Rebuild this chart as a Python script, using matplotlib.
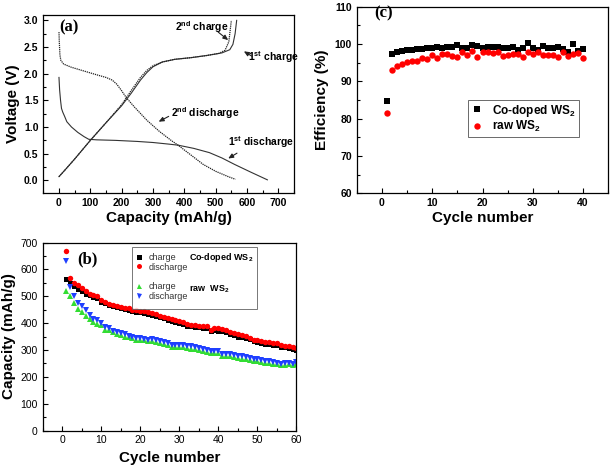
import numpy as np
import matplotlib
matplotlib.use("Agg")
import matplotlib.pyplot as plt
from matplotlib.lines import Line2D
from matplotlib.ticker import MultipleLocator

plt.rcParams['font.family'] = ['Liberation Sans', 'DejaVu Sans']
plt.rcParams['mathtext.fontset'] = 'custom'
plt.rcParams['mathtext.rm'] = 'Liberation Sans'
plt.rcParams['mathtext.bf'] = 'Liberation Sans:bold'

# ---- panel (a): voltage profiles
dis1_cap = [0, 2, 5, 8, 12, 18, 25, 40, 60, 80, 95, 120, 180, 250, 300, 350, 380, 430, 480, 520, 560, 610, 665]
dis1_v = [1.93, 1.7, 1.5, 1.35, 1.28, 1.2, 1.1, 1.0, 0.9, 0.82, 0.77, 0.76, 0.75, 0.73, 0.71, 0.68, 0.66, 0.6, 0.52, 0.42, 0.3, 0.16, 0.01]

dis2_cap = [0, 1, 3, 6, 15, 40, 80, 120, 150, 170, 185, 200, 215, 240, 280, 320, 360, 380, 420, 460, 500, 540, 563]
dis2_v = [2.78, 2.6, 2.35, 2.25, 2.18, 2.12, 2.05, 1.98, 1.93, 1.88, 1.8, 1.68, 1.55, 1.38, 1.13, 0.92, 0.74, 0.66, 0.48, 0.3, 0.17, 0.07, 0.02]

ch1_cap = [0, 20, 50, 100, 150, 200, 230, 260, 280, 300, 330, 370, 420, 470, 520, 545, 555, 562, 567]
ch1_v = [0.07, 0.2, 0.4, 0.75, 1.08, 1.4, 1.63, 1.88, 2.02, 2.13, 2.22, 2.27, 2.3, 2.34, 2.39, 2.45, 2.55, 2.75, 3.0]

ch2_cap = [0, 20, 50, 100, 150, 200, 230, 260, 280, 300, 330, 370, 420, 470, 510, 530, 542, 550]
ch2_v = [0.07, 0.2, 0.4, 0.75, 1.08, 1.42, 1.68, 1.93, 2.06, 2.15, 2.22, 2.27, 2.3, 2.34, 2.38, 2.44, 2.6, 3.0]

# ---- panel (b): cycling capacity
cycles_b = np.arange(1, 61)
co_charge = [565, 548, 537, 527, 518, 510, 503, 498, 492, 480, 473, 468, 463, 460, 456, 453, 450, 446, 443, 441,
             438, 434, 430, 426, 422, 418, 413, 408, 405, 400, 397, 390, 389, 387, 385, 383, 380, 370, 375, 372,
             370, 365, 360, 355, 350, 348, 345, 340, 332, 330, 327, 324, 322, 318, 318, 312, 310, 308, 304, 300]
co_discharge = [668, 567, 550, 540, 530, 520, 510, 505, 500, 485, 478, 472, 468, 465, 460, 457, 455, 450, 448, 446,
                444, 440, 437, 432, 428, 424, 420, 414, 410, 408, 405, 395, 394, 393, 391, 389, 388, 375, 382, 380,
                378, 373, 367, 362, 358, 356, 352, 345, 338, 337, 333, 330, 328, 325, 325, 318, 315, 314, 310, 308]
raw_charge = [520, 500, 473, 452, 440, 428, 415, 405, 398, 393, 375, 373, 365, 360, 355, 350, 348, 345, 338, 338,
              336, 333, 335, 330, 327, 323, 318, 312, 310, 312, 310, 308, 305, 302, 298, 296, 292, 290, 289, 287,
              278, 278, 278, 275, 270, 268, 265, 262, 260, 258, 255, 253, 250, 248, 246, 243, 244, 247, 245, 247]
raw_discharge = [630, 535, 500, 475, 462, 447, 430, 415, 410, 400, 385, 382, 372, 368, 362, 358, 352, 348, 346, 343,
                 342, 338, 340, 337, 334, 330, 326, 320, 318, 318, 317, 316, 313, 310, 306, 302, 298, 296, 296, 295,
                 285, 285, 286, 283, 278, 276, 272, 270, 268, 265, 262, 260, 257, 255, 253, 248, 250, 253, 248, 255]

# ---- panel (c): coulombic efficiency
cycles_c = np.arange(1, 41)
eff_co = [84.7, 97.2, 97.8, 98.1, 98.3, 98.4, 98.5, 98.6, 98.8, 98.9, 99.1, 98.9, 99.2, 99.2, 99.7, 98.9, 98.9, 99.8, 99.4, 98.9,
          99.1, 99.1, 99.1, 98.8, 98.9, 99.3, 98.4, 98.8, 100.2, 98.8, 98.4, 99.4, 98.8, 98.9, 99.3, 98.5, 97.8, 99.9, 98.2, 98.6]
eff_raw = [81.5, 92.9, 94.0, 94.6, 95.2, 95.4, 95.5, 96.1, 96.0, 97.0, 96.2, 97.2, 97.2, 96.8, 96.6, 97.9, 97.0, 98.2, 96.6, 97.8,
           97.7, 97.6, 97.8, 96.8, 97.1, 97.3, 97.4, 96.5, 97.9, 97.4, 97.8, 97.1, 97.0, 97.1, 96.6, 97.8, 96.8, 97.4, 97.5, 96.3]

fig = plt.figure(figsize=(6.1, 4.7), dpi=100)
ax_a = fig.add_axes([0.071, 0.589, 0.411, 0.379])
ax_b = fig.add_axes([0.070, 0.084, 0.416, 0.400])
ax_c = fig.add_axes([0.585, 0.589, 0.412, 0.397])


def style_ticks(ax, bold=True):
    ax.tick_params(which='both', direction='in', top=False, right=False, width=0.8)
    ax.tick_params(which='major', length=3.5)
    ax.tick_params(which='minor', length=2)
    for lab in ax.get_xticklabels() + ax.get_yticklabels():
        lab.set_fontsize(7.5)
        if bold:
            lab.set_fontweight('bold')
    for s in ax.spines.values():
        s.set_linewidth(0.9)


# (a)
dot = (0, (1, 0.7))
ax_a.plot(dis1_cap, dis1_v, color='#333333', lw=0.8)
ax_a.plot(dis2_cap, dis2_v, color='#222222', lw=0.9, linestyle=dot)
ax_a.plot(ch1_cap, ch1_v, color='#333333', lw=0.8)
ax_a.plot(ch2_cap, ch2_v, color='#222222', lw=0.9, linestyle=dot)
ax_a.set_xlim(-50, 750)
ax_a.set_ylim(-0.24, 3.1)
ax_a.xaxis.set_major_locator(MultipleLocator(100))
ax_a.xaxis.set_minor_locator(MultipleLocator(50))
ax_a.yaxis.set_major_locator(MultipleLocator(0.5))
ax_a.yaxis.set_minor_locator(MultipleLocator(0.25))
ax_a.set_xlabel('Capacity (mAh/g)', fontsize=11, fontweight='bold', labelpad=2)
ax_a.set_ylabel('Voltage (V)', fontsize=11, fontweight='bold', labelpad=3)
style_ticks(ax_a)
ax_a.text(0.065, 0.93, '(a)', transform=ax_a.transAxes, fontsize=12, fontweight='bold',
          family='Liberation Serif', va='center')
arr = dict(arrowstyle='-|>,head_length=0.5,head_width=0.22', color='#222222', lw=0.8,
           mutation_scale=6, shrinkA=0, shrinkB=0)
ann = dict(fontsize=7.5, fontweight='bold', va='center')
ax_a.text(370, 2.87, r'2$^{\mathbf{nd}}$ charge', **ann)
ax_a.annotate('', xy=(540, 2.63), xytext=(508, 2.78), arrowprops=arr)
ax_a.text(603, 2.31, r'1$^{\mathbf{st}}$ charge', **ann)
ax_a.annotate('', xy=(590, 2.42), xytext=(615, 2.33), arrowprops=arr)
ax_a.text(357, 1.26, r'2$^{\mathbf{nd}}$ discharge', **ann)
ax_a.annotate('', xy=(318, 1.1), xytext=(350, 1.2), arrowprops=arr)
ax_a.text(538, 0.72, r'1$^{\mathbf{st}}$ discharge', **ann)
ax_a.annotate('', xy=(540, 0.41), xytext=(568, 0.51), arrowprops=arr)

# (b)
ms_b = 3.6
ax_b.plot(cycles_b, co_charge, 's', color='black', ms=ms_b, mew=0)
ax_b.plot(cycles_b, co_discharge, 'o', color='red', ms=ms_b + 0.3, mew=0)
ax_b.plot(cycles_b, raw_charge, '^', color='#33dd33', ms=ms_b + 0.3, mew=0)
ax_b.plot(cycles_b, raw_discharge, 'v', color='#1f3fff', ms=ms_b + 0.3, mew=0)
ax_b.set_xlim(-5, 60)
ax_b.set_ylim(0, 700)
ax_b.xaxis.set_major_locator(MultipleLocator(10))
ax_b.xaxis.set_minor_locator(MultipleLocator(5))
ax_b.yaxis.set_major_locator(MultipleLocator(100))
ax_b.yaxis.set_minor_locator(MultipleLocator(50))
ax_b.set_xlabel('Cycle number', fontsize=11, fontweight='bold', labelpad=4)
ax_b.set_ylabel('Capacity (mAh/g)', fontsize=11, fontweight='bold', labelpad=3)
style_ticks(ax_b, bold=False)
ax_b.text(0.135, 0.908, '(b)', transform=ax_b.transAxes, fontsize=12, fontweight='bold',
          family='Liberation Serif', va='center')
blank = Line2D([], [], linestyle='none')
handles = [Line2D([], [], marker='s', color='black', ls='none', ms=ms_b, mew=0),
           Line2D([], [], marker='o', color='red', ls='none', ms=ms_b, mew=0),
           blank,
           Line2D([], [], marker='^', color='#33dd33', ls='none', ms=ms_b, mew=0),
           Line2D([], [], marker='v', color='#1f3fff', ls='none', ms=ms_b, mew=0),
           blank, blank, blank, blank, blank]
labels = ['charge', 'discharge', ' ', 'charge', 'discharge',
          r'Co-doped WS$_\mathbf{2}$', ' ', ' ', r'raw  WS$_\mathbf{2}$', ' ']
leg_b = ax_b.legend(handles, labels, ncol=2, loc='upper left', bbox_to_anchor=(0.352, 0.975),
                    fontsize=6.5, frameon=True, fancybox=False, edgecolor='#555555',
                    handlelength=0.8, handletextpad=0.6, columnspacing=-1.2, labelspacing=0.08,
                    borderpad=0.4, borderaxespad=0)
leg_b.get_frame().set_linewidth(0.7)
for i, t in enumerate(leg_b.get_texts()):
    if i >= 5:
        t.set_fontweight('bold')
    else:
        t.set_color('#333333')

# (c)
ax_c.plot(cycles_c, eff_co, 's', color='black', ms=4.2, mew=0, label=r'Co-doped WS$_\mathbf{2}$')
ax_c.plot(cycles_c, eff_raw, 'o', color='red', ms=4.6, mew=0, label=r'raw WS$_\mathbf{2}$')
ax_c.set_xlim(-5, 45)
ax_c.set_ylim(60, 110)
ax_c.xaxis.set_major_locator(MultipleLocator(10))
ax_c.xaxis.set_minor_locator(MultipleLocator(5))
ax_c.yaxis.set_major_locator(MultipleLocator(10))
ax_c.yaxis.set_minor_locator(MultipleLocator(5))
ax_c.set_xlabel('Cycle number', fontsize=11, fontweight='bold', labelpad=2)
ax_c.set_ylabel('Efficiency (%)', fontsize=11, fontweight='bold', labelpad=4)
style_ticks(ax_c)
ax_c.text(0.07, 0.965, '(c)', transform=ax_c.transAxes, fontsize=12, fontweight='bold',
          family='Liberation Serif', va='center')
leg_c = ax_c.legend(loc='lower left', bbox_to_anchor=(0.443, 0.30), fontsize=8.5,
                    frameon=True, fancybox=False, edgecolor='#444444', handlelength=1.0,
                    handletextpad=0.8, borderpad=0.25, labelspacing=0.05, borderaxespad=0)
leg_c.get_frame().set_linewidth(0.7)
for t in leg_c.get_texts():
    t.set_fontweight('bold')

fig.savefig('out.png', dpi=100)
